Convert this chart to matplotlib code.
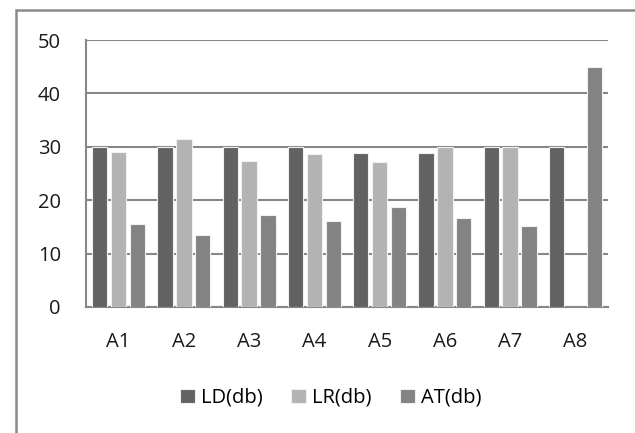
import matplotlib
matplotlib.use("Agg")
import matplotlib.pyplot as plt
import numpy as np
from matplotlib.patches import Rectangle

categories = ["A1", "A2", "A3", "A4", "A5", "A6", "A7", "A8"]
ld = [30, 30, 30, 30, 28.9, 28.9, 30, 30]
lr = [29.1, 31.4, 27.4, 28.6, 27.2, 30, 30, 0]
at = [15.5, 13.4, 17.2, 16.1, 18.7, 16.6, 15.2, 45]
series_names = ["LD(db)", "LR(db)", "AT(db)"]
colors = ["#626262", "#b3b3b3", "#838383"]

plt.rcParams['font.family'] = ['Open Sans', 'DejaVu Sans']
W, H = 635, 433
fig = plt.figure(figsize=(W/100, H/100), dpi=100)
ax = fig.add_axes([86/W, 1-307/H, (608-86)/W, (307-40)/H])

x = np.arange(len(categories))
off = 0.29
bw = 0.235
for i, (vals, name, c) in enumerate(zip([ld, lr, at], series_names, colors)):
    ax.bar(x + (i-1)*off, vals, width=bw, color=c, edgecolor='#f0f0f0', linewidth=0.8, label=name, zorder=3)

ax.set_xlim(-0.5, len(categories)-0.5)
ax.set_ylim(0, 50)
ax.set_yticks([0, 10, 20, 30, 40, 50])
ax.set_xticks(x)
ax.set_xticklabels(categories)
ax.yaxis.grid(True, color='#878787', linewidth=1.5, zorder=0)
ax.set_axisbelow(True)
for s in ['top', 'right']:
    ax.spines[s].set_visible(False)
for s in ['left', 'bottom']:
    ax.spines[s].set_color('#878787')
    ax.spines[s].set_linewidth(1.5)
ax.tick_params(axis='both', length=0, labelsize=14.5, colors='#1a1a1a')
ax.tick_params(axis='y', pad=18)
ax.tick_params(axis='x', pad=18)

fig.legend(loc='center', bbox_to_anchor=(331/W, 1-398/H), ncol=3, frameon=False,
           fontsize=14.5, handlelength=0.75, handleheight=0.75, handletextpad=0.3, columnspacing=1.4)

fig.patches.append(Rectangle((16/W, -0.1), 1.2, 1-10/H+0.1, transform=fig.transFigure,
                             fill=False, edgecolor='#8a8a8a', linewidth=1.8))

fig.savefig("out.png", dpi=100)
